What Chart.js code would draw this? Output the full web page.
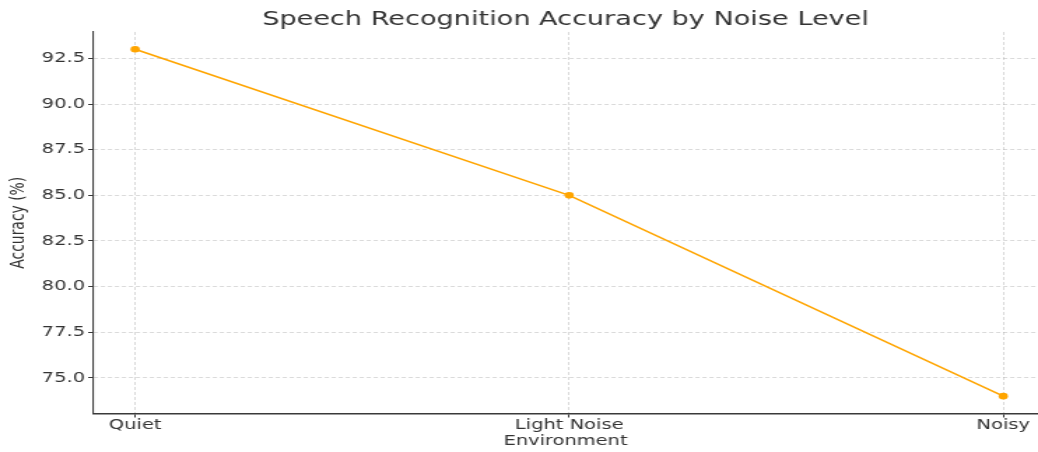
<!DOCTYPE html>
<html>
<head>
<meta charset="utf-8">
<title>Speech Recognition Accuracy by Noise Level</title>
<script src="https://cdn.jsdelivr.net/npm/chart.js@4/dist/chart.umd.min.js"></script>
<style>
  html, body { margin: 0; padding: 0; background: #ffffff; }
  /* the chart is drawn on a 742px-wide bitmap and shown stretched to 1038px */
  #chart { display: block; width: 1038px !important; height: 452px !important; }
</style>
</head>
<body>
<canvas id="chart" width="742" height="452"></canvas>
<script>
// Data
const environments = ['Quiet', 'Light Noise', 'Noisy'];
const accuracy = [93, 85, 74];
const yTicks = [75.0, 77.5, 80.0, 82.5, 85.0, 87.5, 90.0, 92.5];

const FONT = 'DejaVu Sans';
const TEXT = '#333333';
const AXIS = '#3a3a3a';
const GRID = 'rgba(150,150,150,0.35)';

const points = environments.map((name, i) => ({ x: i, y: accuracy[i] }));

new Chart(document.getElementById('chart'), {
  type: 'line',
  data: {
    datasets: [{
      label: 'Accuracy',
      data: points,
      borderColor: '#FFA500',
      backgroundColor: '#FFA500',
      borderWidth: 1.6,
      pointRadius: 3.3,
      pointHoverRadius: 3.3,
      pointBorderWidth: 0,
      tension: 0,
      fill: false
    }]
  },
  options: {
    responsive: false,
    animation: false,
    events: [],
    layout: { autoPadding: false, padding: { left: 0, right: 0, top: 0, bottom: 0 } },
    plugins: {
      legend: { display: false },
      tooltip: { enabled: false },
      title: {
        display: true,
        text: 'Speech Recognition Accuracy by Noise Level',
        fullSize: false,
        color: TEXT,
        font: { family: FONT, size: 19.4, weight: 'normal', lineHeight: 1.2 },
        padding: { top: 8.4, bottom: 0.3 }
      }
    },
    scales: {
      x: {
        type: 'linear',
        min: -0.097,
        max: 2.08,
        afterFit: (s) => { s.height = 38.5; s.paddingLeft = 0; s.paddingRight = 0; },
        ticks: {
          stepSize: 1,
          includeBounds: false,
          autoSkip: false,
          maxRotation: 0,
          padding: 0,
          color: TEXT,
          font: { family: FONT, size: 13.9 },
          callback: (v) => environments[v] ?? ''
        },
        grid: {
          color: GRID,
          lineWidth: 1,
          tickLength: 4,
          tickColor: AXIS,
          tickWidth: 1
        },
        border: { display: true, color: AXIS, width: 1.4, dash: [3, 2] },
        title: {
          display: true,
          text: 'Environment',
          color: TEXT,
          font: { family: FONT, size: 13.9, lineHeight: 1.2 },
          padding: { top: 0, bottom: 2.5 }
        }
      },
      y: {
        type: 'linear',
        min: 73.05,
        max: 93.95,
        afterFit: (s) => { s.width = 66.5; s.paddingTop = 0; s.paddingBottom = 0; },
        afterBuildTicks: (s) => { s.ticks = yTicks.map(v => ({ value: v })); },
        ticks: {
          padding: 2.25,
          color: TEXT,
          font: { family: FONT, size: 13.9 },
          callback: (v) => Number(v).toFixed(1)
        },
        grid: {
          color: GRID,
          lineWidth: 1,
          tickLength: 3.5,
          tickColor: AXIS,
          tickWidth: 1
        },
        border: { display: true, color: AXIS, width: 1.1, dash: [3, 2] },
        title: {
          display: true,
          text: 'Accuracy (%)',
          color: TEXT,
          font: { family: FONT, size: 13.9, lineHeight: 1.2 },
          padding: { top: 4.7, bottom: 0 }
        }
      }
    }
  }
});
</script>
</body>
</html>
